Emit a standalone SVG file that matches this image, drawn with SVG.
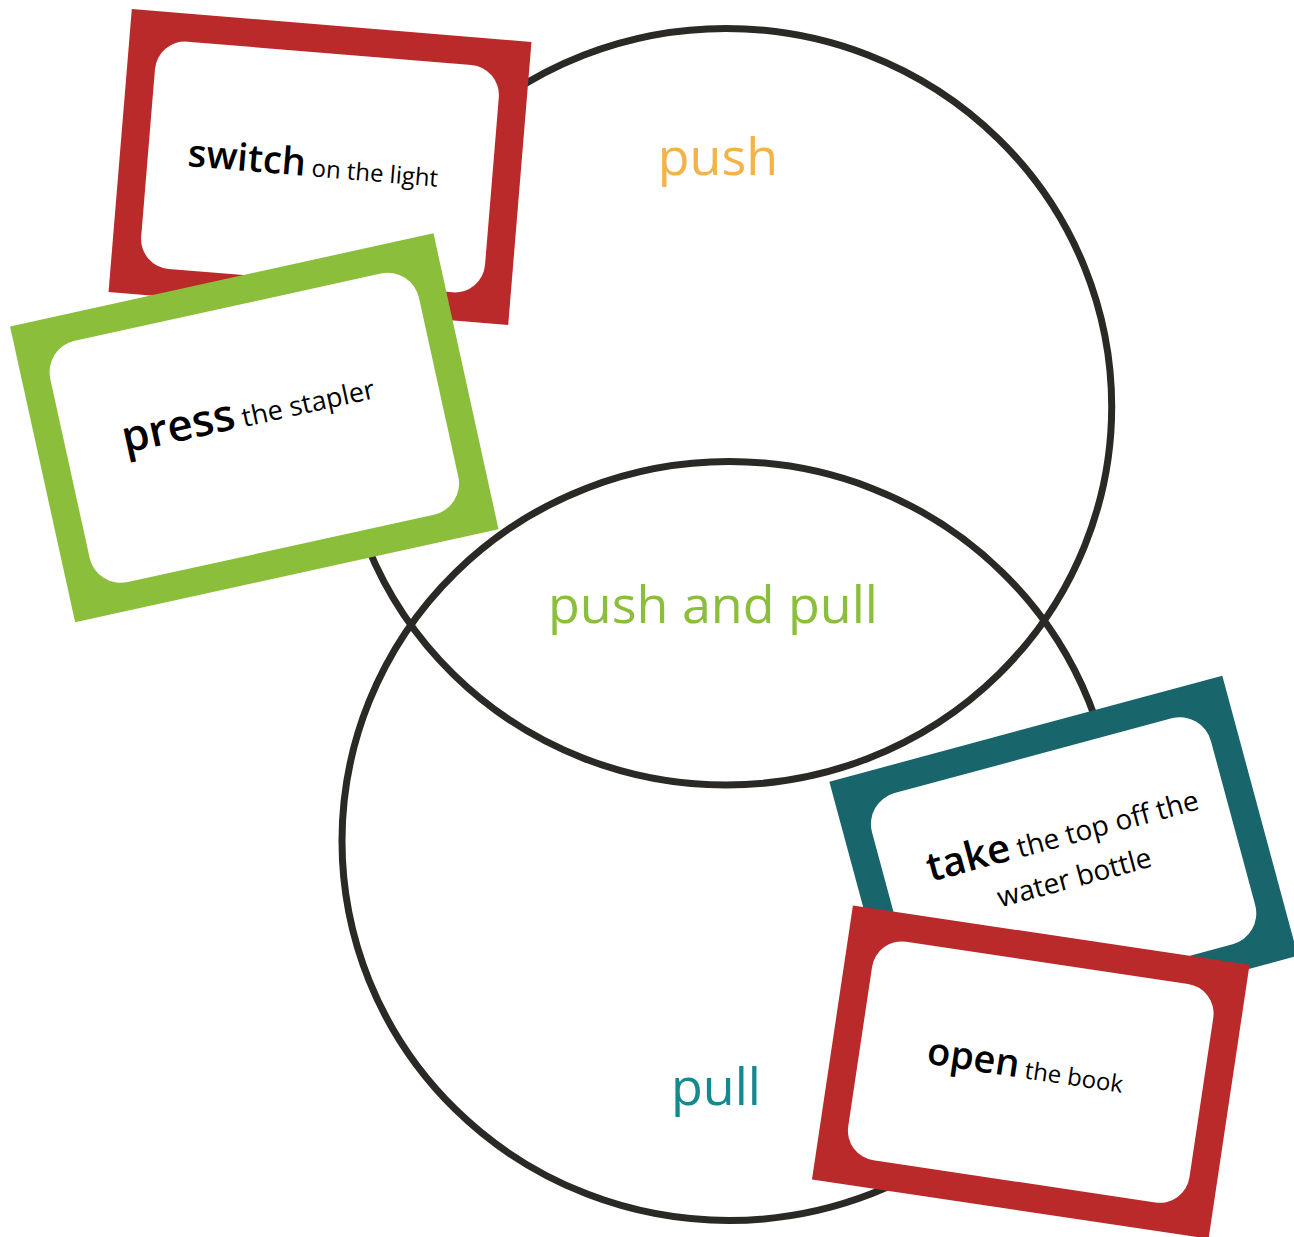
<svg xmlns="http://www.w3.org/2000/svg" width="1294" height="1237" viewBox="0 0 1294 1237">
<style>
.ring{fill:none;stroke:#2b2926;stroke-width:7}
.lbl{font-family:"Open Sans","Noto Sans",sans-serif;font-size:52px;text-anchor:middle;font-weight:500}
.inner{fill:#ffffff}
.ct{font-family:"Open Sans","Noto Sans",sans-serif;fill:#000;text-anchor:middle;font-weight:500}
.big{font-weight:600}
.red{fill:#bb2a2b}
.green{fill:#8bbe3b}
.teal{fill:#18656b}
</style>
<rect width="1294" height="1237" fill="#ffffff"/>
<g id="connectors">
<ellipse id="push-ring" class="ring" cx="726" cy="406.7" rx="385.7" ry="378.3"/>
<ellipse id="pull-ring" class="ring" cx="729" cy="841" rx="387" ry="379.5"/>
</g>
<g id="label-push"><text class="lbl" x="718" y="175" fill="#f3b24a">push</text></g>
<g id="label-both"><text class="lbl" x="713" y="623" fill="#8bbe3b">push and pull</text></g>
<g id="label-pull"><text class="lbl" x="716" y="1105" fill="#14898e">pull</text></g>

<g id="card-switch" transform="translate(320,167) rotate(4.7)">
<rect class="red" x="-200.5" y="-142" width="401" height="284"/>
<rect class="inner" x="-172.5" y="-114" width="345" height="228" rx="30"/>
<text class="ct" x="-7" y="10"><tspan class="big" font-size="38">switch</tspan><tspan font-size="24"> on the light</tspan></text>
</g>

<g id="card-press" transform="translate(254.3,427.8) rotate(-12.4)">
<rect class="green" x="-216.75" y="-151.5" width="433.5" height="303"/>
<rect class="inner" x="-188.75" y="-123.5" width="377.5" height="247" rx="32"/>
<text class="ct" x="-3" y="-3"><tspan class="big" font-size="44">press</tspan><tspan font-size="27"> the stapler</tspan></text>
</g>

<g id="card-take" transform="translate(1063.6,868.7) rotate(-15.1)">
<rect class="teal" x="-203.5" y="-145" width="407" height="290"/>
<rect class="inner" x="-175.5" y="-117" width="351" height="234" rx="32"/>
<text class="ct" x="8" y="-22"><tspan class="big" font-size="40">take</tspan><tspan font-size="28"> the top off the</tspan></text>
<text class="ct" x="8" y="21" font-size="28">water bottle</text>
</g>

<g id="card-open" transform="translate(1030.75,1072.1) rotate(8.5)">
<rect class="red" x="-200.5" y="-138.5" width="401" height="277"/>
<rect class="inner" x="-172.5" y="-110.5" width="345" height="221" rx="30"/>
<text class="ct" x="-6" y="7"><tspan class="big" font-size="38">open</tspan><tspan font-size="24"> the book</tspan></text>
</g>
</svg>
